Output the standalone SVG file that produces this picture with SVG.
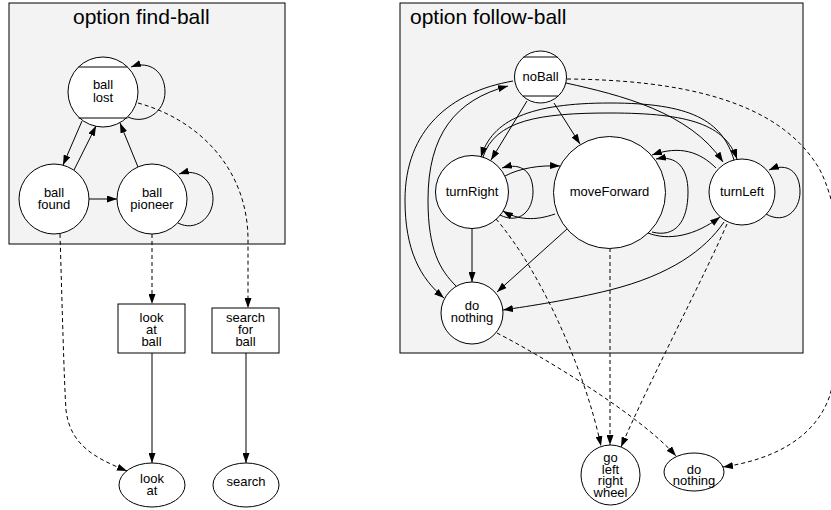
<svg xmlns="http://www.w3.org/2000/svg" width="831" height="510" viewBox="0 0 831 510">
<style>
.cl{fill:#f3f3f3;stroke:#000;stroke-width:1}
.nd{fill:#fff;stroke:#000;stroke-width:1}
.ln{stroke:#000;stroke-width:1;fill:none}
.t{font-family:"Liberation Sans",Arial,sans-serif;font-size:13px;fill:#000;text-anchor:middle}
.tt{font-family:"Liberation Sans",Arial,sans-serif;font-size:21px;fill:#000}
.e{stroke:#000;stroke-width:1;fill:none;marker-end:url(#ah)}
.d{stroke-dasharray:4,3}
</style>
<defs>
<marker id="ah" viewBox="0 0 10 7" refX="10" refY="3.5" markerWidth="10" markerHeight="7" orient="auto" markerUnits="userSpaceOnUse">
<path d="M0,0 L10,3.5 L0,7z" fill="#000"/>
</marker>
</defs>
<rect width="831" height="510" fill="#fff"/>
<g id="cluster-find-ball">
<rect class="cl" x="9" y="3" width="276" height="241"/>
<text class="tt" x="73" y="24">option find-ball</text>
</g>
<g id="cluster-follow-ball">
<rect class="cl" x="400" y="3" width="403" height="350"/>
<text class="tt" x="410" y="24">option follow-ball</text>
</g>
<g id="connectors">
<path class="e" d="M82,121 L63,165"/>
<path class="e" d="M74,170 L96,126"/>
<path class="e" d="M89,199 L117,199"/>
<path class="e" d="M138,167 L120,123"/>
<path class="e" d="M128,117 C145,125 165,112 165,92 C165,72 150,60 131,67"/>
<path class="e" d="M178,223 C195,232 213,218 213,199 C213,180 198,168 179,174"/>
<path class="e d" d="M138,103 C200,120 248,170 248,240 L248,308"/>
<path class="e d" d="M152,234 L152,304"/>
<path class="e d" d="M60,234 C62,300 64,380 66,410 C70,445 95,458 127,471"/>
<path class="e" d="M152,353 L152,463"/>
<path class="e" d="M246,353 L246,463"/>
<path class="e" d="M527,101 L491,160"/>
<path class="e" d="M554,103 L580,144"/>
<path class="e" d="M566,83 C620,95 690,112 723,162"/>
<path class="e" d="M513,81 C450,92 405,130 405,200 C405,250 420,278 444,298"/>
<path class="e" d="M456,286 C440,270 428,250 428,200 C428,135 455,100 508,86"/>
<path class="e" d="M505,176 C520,168 540,165 560,166"/>
<path class="e" d="M500,215 C520,225 533,210 533,192 C533,172 522,162 502,168"/>
<path class="e" d="M555,214 C535,221 518,220 503,211"/>
<path class="e" d="M652,232 C675,238 688,222 688,192 C688,168 677,155 656,159"/>
<path class="e" d="M716,168 C700,152 680,145 652,155"/>
<path class="e" d="M648,233 C668,241 695,236 720,217"/>
<path class="e" d="M766,214 C785,225 800,210 800,192 C800,172 788,162 769,170"/>
<path class="e" d="M483,157 C495,120 540,113 610,113 C690,113 725,125 737,159"/>
<path class="e" d="M734,160 C722,120 690,103 610,103 C530,103 492,120 481,157"/>
<path class="e" d="M472,228 L472,282"/>
<path class="e" d="M567,229 L497,292"/>
<path class="e" d="M724,222 C705,250 670,275 610,290 C570,300 530,306 503,310"/>
<path class="e d" d="M567,79 C680,80 780,100 820,170 C850,230 845,340 830,395 C815,440 770,460 723,467"/>
<path class="e d" d="M496,219 C540,270 585,370 601,446"/>
<path class="e d" d="M610,248 L610,445"/>
<path class="e d" d="M727,224 C705,275 650,380 621,447"/>
<path class="e d" d="M497,333 C540,355 640,415 676,456"/>
</g>
<g id="ball-lost">
<circle class="nd" cx="103" cy="92" r="35"/>
<path class="ln" d="M78.5,67 L127.5,67 M78.5,118 L127.5,118"/>
<text class="t" x="103" y="89">ball</text>
<text class="t" x="103" y="102">lost</text>
</g>
<g id="ball-found">
<circle class="nd" cx="54" cy="199" r="35"/>
<text class="t" x="54" y="197">ball</text>
<text class="t" x="54" y="209">found</text>
</g>
<g id="ball-pioneer">
<circle class="nd" cx="152" cy="199" r="35"/>
<text class="t" x="152" y="197">ball</text>
<text class="t" x="152" y="209">pioneer</text>
</g>
<g id="look-at-ball">
<rect class="nd" x="118" y="304" width="67" height="49"/>
<text class="t" x="151.5" y="322">look</text>
<text class="t" x="151.5" y="334">at</text>
<text class="t" x="151.5" y="346">ball</text>
</g>
<g id="search-for-ball">
<rect class="nd" x="212" y="308" width="67" height="45"/>
<text class="t" x="245.5" y="322">search</text>
<text class="t" x="245.5" y="334">for</text>
<text class="t" x="245.5" y="346">ball</text>
</g>
<g id="look-at">
<ellipse class="nd" cx="152" cy="485" rx="33" ry="22"/>
<text class="t" x="152" y="483">look</text>
<text class="t" x="152" y="495">at</text>
</g>
<g id="search">
<ellipse class="nd" cx="246" cy="485" rx="33" ry="22"/>
<text class="t" x="246" y="486">search</text>
</g>
<g id="noBall">
<circle class="nd" cx="540.5" cy="77" r="26"/>
<path class="ln" d="M523.5,57 L557.5,57 M522.8,96 L558.2,96"/>
<text class="t" x="540.5" y="81">noBall</text>
</g>
<g id="turnRight">
<circle class="nd" cx="472" cy="192" r="36.5"/>
<text class="t" x="472" y="196">turnRight</text>
</g>
<g id="moveForward">
<circle class="nd" cx="609.5" cy="192.5" r="56"/>
<text class="t" x="609.5" y="196">moveForward</text>
</g>
<g id="turnLeft">
<circle class="nd" cx="742" cy="192" r="33"/>
<text class="t" x="742" y="196">turnLeft</text>
</g>
<g id="do-nothing-state">
<circle class="nd" cx="472" cy="313" r="31"/>
<text class="t" x="472" y="310">do</text>
<text class="t" x="472" y="322">nothing</text>
</g>
<g id="go-left-right-wheel">
<ellipse class="nd" cx="610.5" cy="475" rx="29.5" ry="30"/>
<text class="t" x="610.5" y="462">go</text>
<text class="t" x="610.5" y="473.5">left</text>
<text class="t" x="610.5" y="485">right</text>
<text class="t" x="610.5" y="496.5">wheel</text>
</g>
<g id="do-nothing">
<ellipse class="nd" cx="694" cy="472" rx="30" ry="19"/>
<text class="t" x="694" y="474">do</text>
<text class="t" x="694" y="485">nothing</text>
</g>
</svg>
